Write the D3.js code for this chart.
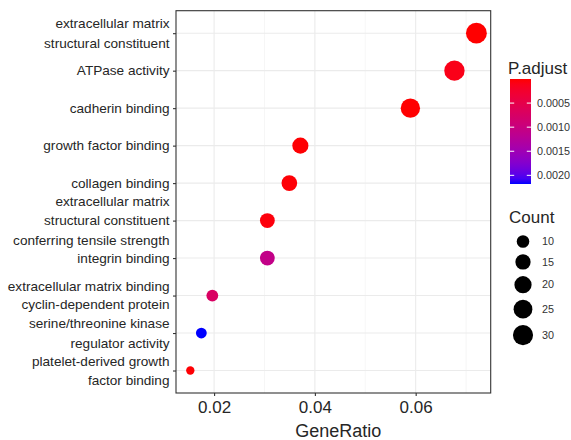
<!DOCTYPE html>
<html>
<head>
<meta charset="utf-8">
<script src="https://cdn.jsdelivr.net/npm/d3@7"></script>
<style>
  html, body { margin: 0; padding: 0; background: #fff; }
  svg { display: block; font-family: "Liberation Sans", Arial, Helvetica, sans-serif; }
</style>
</head>
<body>
<svg id="chart" width="571" height="440"></svg>
<script>
// GO molecular-function enrichment: terms, gene ratios, gene counts, adjusted p-values
const categories = [
  "extracellular matrix\nstructural constituent",
  "ATPase activity",
  "cadherin binding",
  "growth factor binding",
  "collagen binding",
  "extracellular matrix\nstructural constituent\nconferring tensile strength",
  "integrin binding",
  "extracellular matrix binding\n",
  "cyclin-dependent protein\nserine/threonine kinase\nregulator activity\n",
  "platelet-derived growth\nfactor binding"
];
const geneRatio = [0.07205, 0.06769, 0.05895, 0.03712, 0.03493, 0.03057, 0.03057, 0.01965, 0.01747, 0.01528];
const counts    = [33, 31, 27, 17, 16, 14, 14, 9, 8, 7];
const pAdjust   = [2.1e-9, 1.0e-4, 3.5e-6, 1.2e-5, 2.0e-5, 4.0e-5, 1.08e-3, 7.2e-4, 2.18e-3, 1.5e-5];

const xMajorTicks = [0.02, 0.04, 0.06];
const xTickLabels = ["0.02", "0.04", "0.06"];
const xMinorTicks = [0.03, 0.05, 0.07];
const pTicks      = [0.0005, 0.0010, 0.0015, 0.0020];
const pTickLabels = ["0.0005", "0.0010", "0.0015", "0.0020"];
const countBreaks = [10, 15, 20, 25, 30];

const svg = d3.select("#chart");
const panel = { left: 176, right: 490.7, top: 10.7, bottom: 393 };
const textColor = "#262626";

// scales
const [xmin, xmax] = d3.extent(geneRatio);
const xpad = (xmax - xmin) * 0.05;
const x = d3.scaleLinear().domain([xmin - xpad, xmax + xpad]).range([panel.left, panel.right]);
const y = d3.scalePoint().domain(categories).range([panel.top, panel.bottom]).padding(0.6);

const pExtent = d3.extent(pAdjust);
const colorT = d3.scaleLinear().domain(pExtent).range([0, 1]);
const lab = d3.interpolateLab("red", "blue");
const color = p => lab(colorT(p));

// point size: area-proportional mapping of count onto size 3..8, converted to px radius
const sizeNorm = d3.scaleLinear().domain(d3.extent(counts)).range([0, 1]).clamp(true);
const sizeRange = d3.scaleLinear().domain([0, 1]).range([3, 8]);
const radius = c => 0.88 * (sizeRange(Math.sqrt(sizeNorm(c))) * 2.845 + 0.94) / 2;

// panel background & grid
svg.append("rect").attr("x", 0).attr("y", 0).attr("width", 571).attr("height", 440).attr("fill", "#fff");

const grid = svg.append("g");
grid.selectAll("line.minor").data(xMinorTicks).join("line")
  .attr("x1", d => x(d)).attr("x2", d => x(d))
  .attr("y1", panel.top).attr("y2", panel.bottom)
  .attr("stroke", "#f0f0f0").attr("stroke-width", 0.6);
grid.selectAll("line.majx").data(xMajorTicks).join("line")
  .attr("x1", d => x(d)).attr("x2", d => x(d))
  .attr("y1", panel.top).attr("y2", panel.bottom)
  .attr("stroke", "#ebebeb").attr("stroke-width", 1.1);
grid.selectAll("line.majy").data(categories).join("line")
  .attr("x1", panel.left).attr("x2", panel.right)
  .attr("y1", d => y(d)).attr("y2", d => y(d))
  .attr("stroke", "#ebebeb").attr("stroke-width", 1.1);

// points
const data = categories.map((c, i) => ({ cat: c, ratio: geneRatio[i], count: counts[i], p: pAdjust[i] }));
svg.append("g").selectAll("circle").data(data).join("circle")
  .attr("cx", d => x(d.ratio))
  .attr("cy", d => y(d.cat))
  .attr("r", d => radius(d.count))
  .attr("fill", d => color(d.p));

// panel border
svg.append("rect")
  .attr("x", panel.left).attr("y", panel.top)
  .attr("width", panel.right - panel.left).attr("height", panel.bottom - panel.top)
  .attr("fill", "none").attr("stroke", "#333").attr("stroke-width", 1.1);

// x axis
const xAxis = d3.axisBottom(x).tickValues(xMajorTicks)
  .tickFormat((d, i) => xTickLabels[i]).tickSize(3).tickPadding(5.4);
const gx = svg.append("g").attr("transform", `translate(0,${panel.bottom})`).call(xAxis);
gx.select(".domain").remove();
gx.selectAll(".tick line").attr("stroke", "#333").attr("stroke-width", 1.1);
gx.selectAll(".tick text").attr("fill", textColor).attr("font-size", 17)
  .attr("font-family", "Liberation Sans, Arial, sans-serif");

// y axis (ticks only; multi-line labels drawn below)
const yAxis = d3.axisLeft(y).tickSize(3).tickFormat("");
const gy = svg.append("g").attr("transform", `translate(${panel.left},0)`).call(yAxis);
gy.select(".domain").remove();
gy.selectAll(".tick line").attr("stroke", "#333").attr("stroke-width", 1.1);

const lineGap = 19.5;
const yLabels = svg.append("g").attr("font-size", 13.6).attr("fill", textColor).attr("text-anchor", "end");
categories.forEach(cat => {
  const lines = cat.split("\n");
  const t = yLabels.append("text").attr("x", 169.5).attr("y", y(cat));
  lines.forEach((ln, j) => {
    t.append("tspan").attr("x", 169.5)
      .attr("dy", j === 0 ? `${(-(lines.length - 1) / 2) * lineGap / 13.6 + 0.35}em` : `${lineGap / 13.6}em`)
      .text(ln || "\u00a0");
  });
});

// axis title
svg.append("text").attr("x", (panel.left + panel.right) / 2 + 5).attr("y", 437)
  .attr("text-anchor", "middle").attr("font-size", 18).attr("fill", textColor).text("GeneRatio");

// colour legend
svg.append("text").attr("x", 508).attr("y", 74).attr("font-size", 17).attr("fill", textColor).text("P.adjust");
const bar = { x: 510, w: 21, top: 79, bottom: 184 };
const grad = svg.append("defs").append("linearGradient").attr("id", "pgrad")
  .attr("x1", 0).attr("x2", 0).attr("y1", 0).attr("y2", 1);
d3.range(0, 1.0001, 0.05).forEach(t => {
  grad.append("stop").attr("offset", t).attr("stop-color", lab(t));
});
svg.append("rect").attr("x", bar.x).attr("y", bar.top).attr("width", bar.w)
  .attr("height", bar.bottom - bar.top).attr("fill", "url(#pgrad)");
const barY = d3.scaleLinear().domain(pExtent).range([bar.top, bar.bottom]);
const cb = svg.append("g");
cb.selectAll("line.l").data(pTicks).join("line")
  .attr("x1", bar.x).attr("x2", bar.x + 4.2)
  .attr("y1", d => barY(d)).attr("y2", d => barY(d))
  .attr("stroke", "#fff").attr("stroke-width", 1);
cb.selectAll("line.r").data(pTicks).join("line")
  .attr("x1", bar.x + bar.w - 4.2).attr("x2", bar.x + bar.w)
  .attr("y1", d => barY(d)).attr("y2", d => barY(d))
  .attr("stroke", "#fff").attr("stroke-width", 1);
cb.selectAll("text").data(pTicks).join("text")
  .attr("x", 537).attr("y", d => barY(d)).attr("dy", "0.35em")
  .attr("font-size", 10.8).attr("fill", "#333")
  .text((d, i) => pTickLabels[i]);

// size legend
svg.append("text").attr("x", 509).attr("y", 223).attr("font-size", 17).attr("fill", textColor).text("Count");
const keyH = countBreaks.map(c => 2 * radius(c) + 6.5);
let cy = 232;
const keys = countBreaks.map((c, i) => {
  const yc = cy + keyH[i] / 2;
  cy += keyH[i];
  return { c, yc };
});
const sl = svg.append("g");
sl.selectAll("circle").data(keys).join("circle")
  .attr("cx", 523).attr("cy", d => d.yc).attr("r", d => radius(d.c)).attr("fill", "#000");
sl.selectAll("text").data(keys).join("text")
  .attr("x", 542).attr("y", d => d.yc).attr("dy", "0.35em")
  .attr("font-size", 10.8).attr("fill", "#333").text(d => d.c);
</script>
</body>
</html>
